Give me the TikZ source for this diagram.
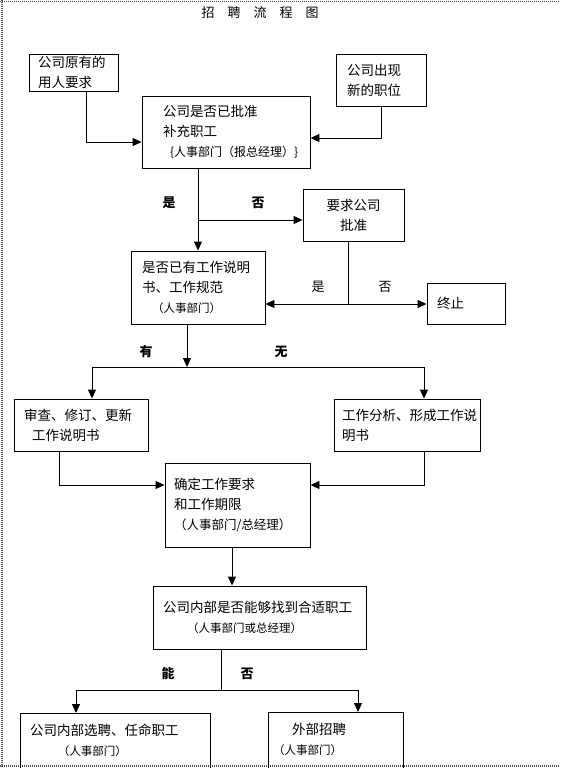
\documentclass[tikz,border=0pt]{standalone}
\usepackage{fontspec}
\setmainfont{Noto Sans CJK SC}
\usepackage{tikz}
\usetikzlibrary{arrows.meta}
\newcommand{\subl}{\fontsize{11.5}{20}\selectfont}

\begin{document}
\begin{tikzpicture}[x=1pt,y=-1pt,
    box/.style={draw,line width=0.9pt,inner xsep=0pt,inner ysep=0pt,align=left,
      font=\fontsize{13.5}{20}\selectfont},
    arr/.style={line width=0.9pt,-{Triangle[length=9pt,width=8pt]}},
    ln/.style={line width=0.9pt},
    yn/.style={font=\bfseries\fontsize{13}{15}\selectfont},
    edge/.style={line width=1.2pt,black!70,dash pattern=on 1pt off 1pt}]
    \useasboundingbox (0,0) rectangle (560,768);
    \clip (0,0) rectangle (560,768);
    \draw[edge] (0,1.5) -- (560,1.5);
    \draw[edge] (2,0) -- (2,768);
    \draw[edge] (0,766) -- (560,766);

    \node[font=\fontsize{13}{15}\selectfont] (Title) at (260,13) {招\hspace{13pt}聘\hspace{13pt}流\hspace{13pt}程\hspace{13pt}图};

    \node[box,text width=71pt,inner xsep=9pt,minimum height=37pt] (Req) at (73.5,72.5) {公司原有的\\用人要求};
    \node[box,text width=68pt,inner xsep=11pt,minimum height=52pt] (Pos) at (381,80) {公司出现\\新的职位};
    \node[box,text width=126pt,inner xsep=21pt,minimum height=72pt] (Appr) at (226,132) {公司是否已批准\\补充职工\\\hspace*{7pt}{\fontsize{12}{20}\selectfont\{人事部门（报总经理）\}}};
    \node[box,text width=101pt,minimum height=52pt,align=center] (Ask) at (353.5,215) {要求公司\\批准};
    \node[box,text width=112pt,inner xsep=11pt,minimum height=73pt] (Doc) at (198,287.5) {是否已有工作说明\\书、工作规范\\\hspace*{10pt}{\subl （人事部门）}};
    \node[box,text width=58pt,inner xsep=10pt,minimum height=41pt] (Stop) at (466,303.5) {终止};
    \node[box,text width=114pt,inner xsep=10pt,minimum height=52pt] (Rev) at (81,425) {审查、修订、更新\\\hspace*{8pt}工作说明书};
    \node[box,text width=130pt,inner xsep=8pt,minimum height=52pt] (Ana) at (407,425) {工作分析、形成工作说\\明书};
    \node[box,text width=127pt,inner xsep=9pt,minimum height=84pt] (Def) at (237.5,505) {确定工作要求\\和工作期限\\{\fontsize{12.5}{20}\selectfont （人事部门/总经理）}};
    \node[box,text width=193pt,inner xsep=10pt,minimum height=63pt] (Int) at (259.5,617.5) {公司内部是否能够找到合适职工\\\hspace*{24pt}{\subl （人事部门或总经理）}};
    \node[box,text width=170pt,inner xsep=10pt,inner ysep=10.5pt,text depth=40pt,anchor=north] (Sel) at (115,713) {公司内部选聘、任命职工\\\hspace*{28pt}{\subl （人事部门）}};
    \node[box,text width=125pt,inner xsep=5pt,inner ysep=10.5pt,text depth=40pt,anchor=north] (Ext) at (335.5,712) {\hspace*{19pt}外部招聘\\{\subl （人事部门）}};

    \node[yn] (Y1) at (169,203) {是};
    \node[yn] (N1) at (258,203) {否};
    \node[font=\fontsize{13}{15}\selectfont] (Y2) at (318,287) {是};
    \node[font=\fontsize{13}{15}\selectfont] (N2) at (385,287) {否};
    \node[yn] (Y3) at (146,352) {有};
    \node[yn] (N3) at (281,352) {无};
    \node[yn] (Y4) at (168,674) {能};
    \node[yn] (N4) at (247,674) {否};

    \coordinate (B1) at (198,220);
    \coordinate (EF) at (348,304);
    \coordinate (F1) at (187,367);
    \coordinate (F2) at (221,690);

    \draw[arr] ([xshift=12.5pt]Req.south) |- ([yshift=-10pt]Appr.west);
    \draw[arr] (Pos.south) |- ([yshift=-6pt]Appr.east);
    \draw[arr] (Appr.south -| Doc.north) -- (Doc.north);
    \draw[arr] (B1) -- (B1 -| Ask.west);
    \draw[ln] (Ask.south -| EF) -- (EF);
    \draw[arr] (EF) -- (EF -| Doc.east);
    \draw[arr] (EF) -- (EF -| Stop.west);
    \draw[arr] (Doc.south -| F1) -- (F1);
    \draw[arr] (F1) -| ([xshift=11pt]Rev.north);
    \draw[arr] (F1) -| ([xshift=17pt]Ana.north);
    \draw[arr] ([xshift=-22pt]Rev.south) |- ([yshift=20pt]Def.west);
    \draw[arr] ([xshift=17pt]Ana.south) |- ([yshift=20pt]Def.east);
    \draw[arr] ([xshift=-5.5pt]Def.south) -- ([xshift=-5.5pt]Def.south |- Int.north);
    \draw[ln] (Int.south -| F2) -- (F2);
    \draw[arr] (F2) -| ([xshift=-39pt]Sel.north);
    \draw[arr] (F2) -| ([xshift=22.5pt]Ext.north);
\end{tikzpicture}
\end{document}
